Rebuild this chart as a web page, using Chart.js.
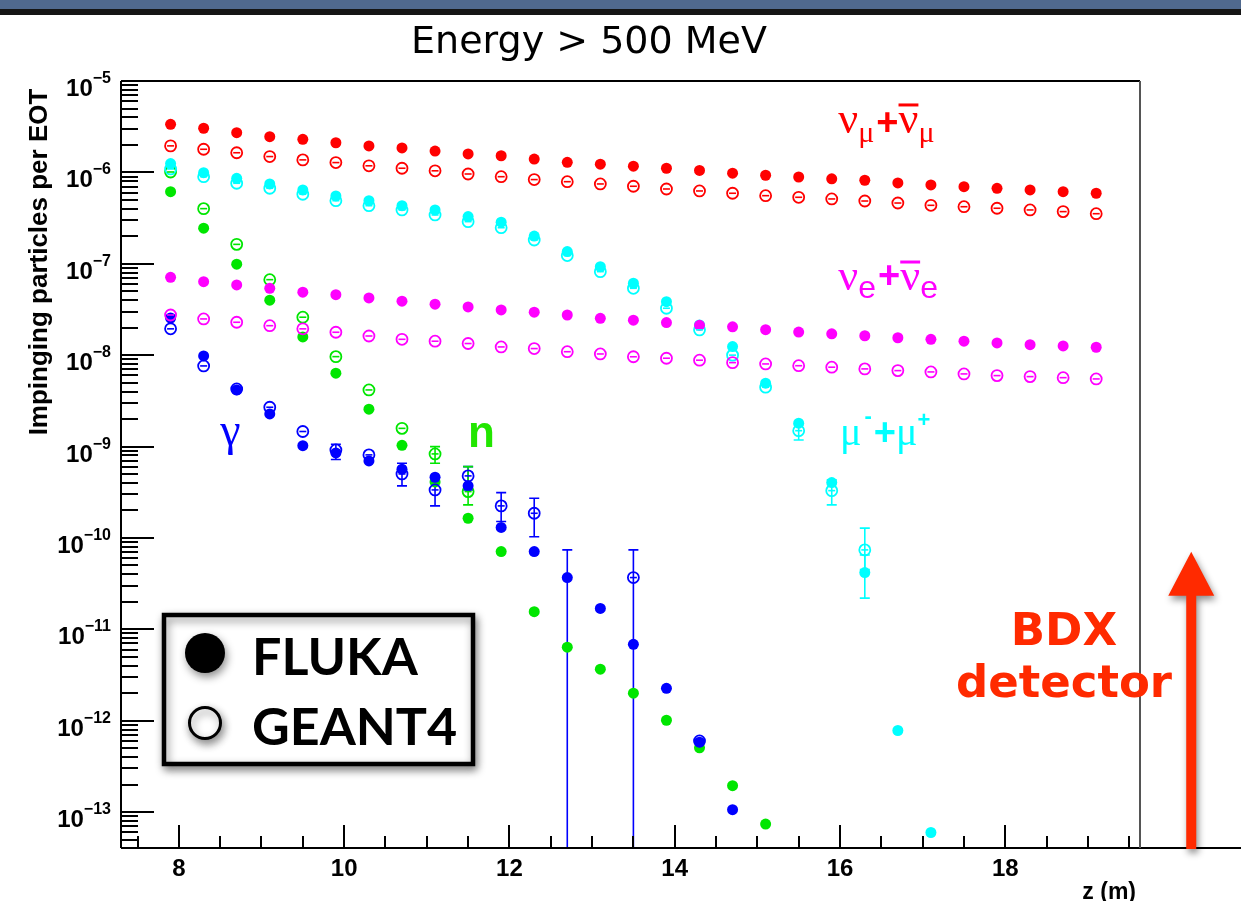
<!DOCTYPE html>
<html>
<head>
<meta charset="utf-8">
<script src="https://cdn.jsdelivr.net/npm/chart.js@4.4.1/dist/chart.umd.min.js"></script>
<style>
  html, body { margin: 0; padding: 0; background: #fff; }
  canvas { display: block; }
</style>
</head>
<body>
<canvas id="grafico" width="1241" height="901"></canvas>
<script>
// posicoes z (m) dos pontos
var zPos = [7.9, 8.3, 8.7, 9.1, 9.5, 9.9, 10.3, 10.7, 11.1, 11.5, 11.9, 12.3, 12.7, 13.1, 13.5,
            13.9, 14.3, 14.7, 15.1, 15.5, 15.9, 16.3, 16.7, 17.1, 17.5, 17.9, 18.3, 18.7, 19.1];

// nu_mu + anti nu_mu
var numuFluka = [3.36e-6, 3.04e-6, 2.72e-6, 2.46e-6, 2.30e-6, 2.11e-6, 1.95e-6, 1.85e-6, 1.71e-6, 1.59e-6,
                 1.52e-6, 1.40e-6, 1.29e-6, 1.23e-6, 1.17e-6, 1.11e-6, 1.05e-6, 9.8e-7, 9.3e-7, 8.9e-7,
                 8.5e-7, 8.2e-7, 7.66e-7, 7.28e-7, 6.98e-7, 6.70e-7, 6.42e-7, 6.15e-7, 5.91e-7];
var numuGeant = [1.95e-6, 1.79e-6, 1.64e-6, 1.49e-6, 1.37e-6, 1.28e-6, 1.18e-6, 1.11e-6, 1.04e-6, 9.6e-7,
                 8.97e-7, 8.34e-7, 7.91e-7, 7.47e-7, 7.05e-7, 6.58e-7, 6.26e-7, 5.91e-7, 5.56e-7, 5.34e-7,
                 5.12e-7, 4.86e-7, 4.62e-7, 4.36e-7, 4.21e-7, 4.05e-7, 3.88e-7, 3.72e-7, 3.53e-7];
// nu_e + anti nu_e
var nueFluka = [7.11e-8, 6.37e-8, 5.86e-8, 5.39e-8, 4.88e-8, 4.59e-8, 4.23e-8, 3.89e-8, 3.61e-8, 3.37e-8,
                3.12e-8, 2.95e-8, 2.75e-8, 2.53e-8, 2.41e-8, 2.27e-8, 2.12e-8, 2.04e-8, 1.90e-8, 1.79e-8,
                1.71e-8, 1.63e-8, 1.55e-8, 1.49e-8, 1.42e-8, 1.36e-8, 1.30e-8, 1.26e-8, 1.22e-8];
var nueGeant = [2.75e-8, 2.49e-8, 2.29e-8, 2.10e-8, 1.94e-8, 1.78e-8, 1.62e-8, 1.49e-8, 1.42e-8, 1.34e-8,
                1.23e-8, 1.18e-8, 1.09e-8, 1.03e-8, 9.6e-9, 9.25e-9, 8.8e-9, 8.28e-9, 8.01e-9, 7.66e-9,
                7.38e-9, 7.07e-9, 6.77e-9, 6.55e-9, 6.23e-9, 5.97e-9, 5.82e-9, 5.67e-9, 5.49e-9];
// mu- + mu+
var muFluka = [1.25e-6, 9.93e-7, 8.62e-7, 7.47e-7, 6.42e-7, 5.52e-7, 4.90e-7, 4.32e-7, 3.88e-7, 3.28e-7,
               2.85e-7, 2.01e-7, 1.36e-7, 9.3e-8, 6.12e-8, 3.85e-8, 2.14e-8, 1.24e-8, 4.93e-9, 1.80e-9,
               4.03e-10, 4.17e-11, 7.8e-13, 5.97e-14, null, null, null, null, null];
var muGeant = [1.09e-6, 8.97e-7, 7.60e-7, 6.70e-7, 5.76e-7, 4.90e-7, 4.32e-7, 3.88e-7, 3.42e-7, 2.89e-7,
               2.48e-7, 1.82e-7, 1.23e-7, 8.2e-8, 5.39e-8, 3.26e-8, 1.89e-8, 1.00e-8, 4.46e-9, 1.49e-9,
               3.29e-10, 7.39e-11, null, null, null, null, null, null, null];
// gamma
var gamFluka = [2.55e-8, 9.8e-9, 4.16e-9, 2.27e-9, 1.02e-9, 8.5e-10, 6.95e-10, 5.65e-10, 4.61e-10, 3.71e-10,
                1.30e-10, 7.08e-11, 3.68e-11, 1.69e-11, 6.84e-12, 2.26e-12, 5.82e-13, 1.06e-13, null, null,
                null, null, null, null, null, null, null, null, null];
var gamGeant = [1.94e-8, 7.62e-9, 4.27e-9, 2.69e-9, 1.46e-9, 9.18e-10, 8.1e-10, 5.01e-10, 3.35e-10, 4.77e-10,
                2.24e-10, 1.86e-10, null, null, 3.68e-11, null, 6.0e-13, null, null, null,
                null, null, null, null, null, null, null, null, null];
// neutroni
var nFluka = [6.15e-7, 2.45e-7, 9.9e-8, 3.99e-8, 1.58e-8, 6.34e-9, 2.56e-9, 1.03e-9, 4.10e-10, 1.64e-10,
              7.08e-11, 1.56e-11, 6.37e-12, 3.66e-12, 2.00e-12, 1.01e-12, 5.04e-13, 1.94e-13, 7.38e-14, null,
              null, null, null, null, null, null, null, null, null];
var nGeant = [1.01e-6, 4.01e-7, 1.63e-7, 6.70e-8, 2.60e-8, 9.63e-9, 4.16e-9, 1.58e-9, 8.3e-10, 3.21e-10,
              null, null, null, null, null, null, null, null, null, null,
              null, null, null, null, null, null, null, null, null];

// barras de erro [z, baixo, alto]
var gamFlukaErr = [[9.9, 7.2e-10, 1.06e-9], [12.7, 1e-16, 7.39e-11]];
var gamGeantErr = [[10.7, 3.71e-10, 6.57e-10], [11.1, 2.24e-10, 4.6e-10], [11.5, 3.35e-10, 6.03e-10],
                   [11.9, 1.51e-10, 3.13e-10], [12.3, 1.03e-10, 2.72e-10], [13.5, 1e-16, 7.39e-11]];
var nGeantErr = [[11.1, 6.57e-10, 9.98e-10], [11.5, 2.30e-10, 6.03e-10]];
var muGeantErr = [[15.5, 1.18e-9, 1.72e-9], [15.9, 2.30e-10, 4.31e-10], [16.3, 4.5e-11, 1.28e-10]];
var muFlukaErr = [[16.3, 2.19e-11, 6.5e-11]];

// eixos
var yDecades = [-5, -6, -7, -8, -9, -10, -11, -12, -13];
var xTickLabels = [8, 10, 12, 14, 16, 18];

var VERMELHO = '#ff0000', MAGENTA = '#ff00ff', CIANO = '#00ffff', AZUL = '#0000ff', VERDE = '#00e600';
var LARANJA = '#ff2a00';

function pontos(valores) {
    var out = [];
    zPos.forEach(function (z, i) {
        if (valores[i] !== null) out.push({ x: z, y: valores[i] });
    });
    return out;
}
function cheio(label, valores, cor) {
    return { label: label, data: pontos(valores), pointStyle: 'circle', pointRadius: 5.5,
             pointBackgroundColor: cor, pointBorderColor: cor, pointBorderWidth: 0, showLine: false };
}
function vazio(label, valores, cor) {
    return { label: label, data: pontos(valores), pointStyle: 'circle', pointRadius: 5.5,
             pointBackgroundColor: 'rgba(0,0,0,0)', pointBorderColor: cor, pointBorderWidth: 1.8,
             showLine: false, aberto: true };
}

// indice 0 fica por cima
var datasets = [
    vazio('numu GEANT4', numuGeant, VERMELHO),
    cheio('numu FLUKA', numuFluka, VERMELHO),
    vazio('nue GEANT4', nueGeant, MAGENTA),
    cheio('nue FLUKA', nueFluka, MAGENTA),
    vazio('mu GEANT4', muGeant, CIANO),
    cheio('mu FLUKA', muFluka, CIANO),
    vazio('gamma GEANT4', gamGeant, AZUL),
    cheio('gamma FLUKA', gamFluka, AZUL),
    vazio('n GEANT4', nGeant, VERDE),
    cheio('n FLUKA', nFluka, VERDE)
];

var barrasErro = [
    { err: gamFlukaErr, cor: AZUL }, { err: gamGeantErr, cor: AZUL },
    { err: nGeantErr, cor: VERDE }, { err: muGeantErr, cor: CIANO }, { err: muFlukaErr, cor: CIANO }
];

// texto com partes (subscrito, sobrescrito, barra)
function textoPartes(ctx, x, y, partes, cor) {
    ctx.fillStyle = cor;
    ctx.strokeStyle = cor;
    ctx.textAlign = 'left';
    ctx.textBaseline = 'alphabetic';
    partes.forEach(function (p) {
        ctx.font = p.font;
        var w = ctx.measureText(p.t).width;
        ctx.fillText(p.t, x + (p.dx || 0), y + (p.dy || 0));
        if (p.barra) {
            ctx.lineWidth = 3;
            ctx.beginPath();
            ctx.moveTo(x + (p.dx || 0), y - 28);
            ctx.lineTo(x + (p.dx || 0) + w, y - 28);
            ctx.stroke();
        }
        x += w + (p.dx || 0) + (p.gap || 0);
    });
}

var SERIF = '"Liberation Serif", serif';
var SANS = '"Liberation Sans", Arial, sans-serif';

var rotulos = [
    { z: 15.98, v: 2.70e-6, cor: VERMELHO, partes: [
        { t: '\u03bd', font: '44px ' + SERIF },
        { t: '\u03bc', font: '30px ' + SERIF, dy: 9 },
        { t: '+', font: 'bold 38px ' + SANS, dy: 2, dx: 2 },
        { t: '\u03bd', font: '44px ' + SERIF, barra: true },
        { t: '\u03bc', font: '30px ' + SERIF, dy: 9 }] },
    { z: 15.98, v: 5.16e-8, cor: MAGENTA, partes: [
        { t: '\u03bd', font: '44px ' + SERIF },
        { t: 'e', font: '32px ' + SANS, dy: 8 },
        { t: '+', font: 'bold 38px ' + SANS, dy: -2, dx: 2 },
        { t: '\u03bd', font: '44px ' + SERIF, barra: true },
        { t: 'e', font: '32px ' + SANS, dy: 8 }] },
    { z: 16.0, v: 1.04e-9, cor: CIANO, partes: [
        { t: '\u03bc', font: '40px ' + SERIF },
        { t: '-', font: 'bold 22px ' + SANS, dy: -22, dx: 3 },
        { t: '+', font: 'bold 38px ' + SANS, dx: 2 },
        { t: '\u03bc', font: '40px ' + SERIF },
        { t: '+', font: 'bold 22px ' + SANS, dy: -18 }] },
    { z: 8.5, v: 1.04e-9, cor: AZUL, partes: [{ t: '\u03b3', font: '46px ' + SERIF }] },
    { z: 11.5, v: 9.87e-10, cor: '#22e600', partes: [{ t: 'n', font: 'bold 44px ' + SANS }] }
];

var moldura = {
    id: 'moldura',
    beforeDraw: function (chart) {
        var ctx = chart.ctx;
        ctx.save();
        ctx.fillStyle = '#ffffff';
        ctx.fillRect(0, 0, chart.width, chart.height);
        // faixa do slide
        ctx.fillStyle = '#50698e';
        ctx.fillRect(0, 0, chart.width, 9);
        ctx.fillStyle = '#151515';
        ctx.fillRect(0, 9, chart.width, 6);
        ctx.restore();
    },
    beforeDatasetsDraw: function (chart) {
        var ctx = chart.ctx, area = chart.chartArea, xs = chart.scales.x, ys = chart.scales.y;
        ctx.save();
        ctx.beginPath();
        ctx.rect(area.left, area.top, area.right - area.left, area.bottom - area.top);
        ctx.clip();
        ctx.lineWidth = 1.6;
        barrasErro.forEach(function (b) {
            ctx.strokeStyle = b.cor;
            b.err.forEach(function (e) {
                var px = xs.getPixelForValue(e[0]);
                var y1 = ys.getPixelForValue(e[2]);
                var y2 = ys.getPixelForValue(e[1]);
                ctx.beginPath();
                ctx.moveTo(px, y1); ctx.lineTo(px, y2);
                ctx.moveTo(px - 5, y1); ctx.lineTo(px + 5, y1);
                if (y2 < area.bottom) { ctx.moveTo(px - 5, y2); ctx.lineTo(px + 5, y2); }
                ctx.stroke();
            });
        });
        ctx.restore();
    },
    afterDatasetsDraw: function (chart) {
        var ctx = chart.ctx;
        ctx.save();
        ctx.lineWidth = 1.6;
        chart.data.datasets.forEach(function (ds, i) {
            if (!ds.aberto) return;
            ctx.strokeStyle = ds.pointBorderColor;
            chart.getDatasetMeta(i).data.forEach(function (pt) {
                ctx.beginPath();
                ctx.moveTo(pt.x - 3.5, pt.y);
                ctx.lineTo(pt.x + 3.5, pt.y);
                ctx.stroke();
            });
        });
        ctx.restore();
    },
    afterDraw: function (chart) {
        var ctx = chart.ctx, area = chart.chartArea, xs = chart.scales.x, ys = chart.scales.y;
        ctx.save();

        // moldura
        ctx.strokeStyle = '#000';
        ctx.lineWidth = 2;
        ctx.beginPath();
        ctx.moveTo(area.left, area.top); ctx.lineTo(area.right, area.top);
        ctx.moveTo(area.left, area.top); ctx.lineTo(area.left, area.bottom);
        ctx.moveTo(area.left, area.bottom); ctx.lineTo(chart.width, area.bottom);
        ctx.stroke();
        ctx.strokeStyle = '#555';
        ctx.beginPath();
        ctx.moveTo(area.right, area.top); ctx.lineTo(area.right, area.bottom);
        ctx.stroke();

        // marcas do eixo y
        ctx.strokeStyle = '#000';
        ctx.lineWidth = 2;
        ctx.beginPath();
        for (var n = -14; n <= -6; n++) {
            for (var k = 1; k <= 9; k++) {
                var v = k * Math.pow(10, n);
                if (v < ys.min || v > ys.max) continue;
                var py = Math.round(ys.getPixelForValue(v));
                ctx.moveTo(area.left, py);
                ctx.lineTo(area.left + (k === 1 ? 33 : 17), py);
            }
        }
        // marcas do eixo x
        for (var z = 7.5; z <= 19.5; z += 0.5) {
            var px = Math.round(xs.getPixelForValue(z));
            ctx.moveTo(px, area.bottom);
            ctx.lineTo(px, area.bottom - (z % 2 === 0 ? 23 : 12));
        }
        ctx.stroke();

        // rotulos do eixo y
        ctx.fillStyle = '#000';
        ctx.textAlign = 'right';
        ctx.textBaseline = 'alphabetic';
        yDecades.forEach(function (d) {
            var py = ys.getPixelForValue(Math.pow(10, d));
            var ex = '\u2212' + Math.abs(d);
            ctx.font = 'bold 16px ' + SANS;
            ctx.fillText(ex, 111, py + 2);
            var w = ctx.measureText(ex).width;
            ctx.font = 'bold 24px ' + SANS;
            ctx.fillText('10', 111 - w, py + 15);
        });
        // rotulos do eixo x
        ctx.textAlign = 'center';
        ctx.font = 'bold 24px ' + SANS;
        xTickLabels.forEach(function (t) {
            ctx.fillText(String(t), xs.getPixelForValue(t), 876);
        });
        ctx.textAlign = 'right';
        ctx.font = 'bold 23px ' + SANS;
        ctx.fillText('z (m)', 1136, 899);

        // titulo do eixo y
        ctx.save();
        ctx.translate(47, 262);
        ctx.rotate(-Math.PI / 2);
        ctx.textAlign = 'center';
        ctx.font = 'bold 26px ' + SANS;
        ctx.fillText('Impinging particles per EOT', 0, 0);
        ctx.restore();

        // titulo
        ctx.textAlign = 'center';
        ctx.font = '38px "DejaVu Sans", sans-serif';
        ctx.fillText('Energy > 500 MeV', 589, 53);

        // rotulos das particulas
        rotulos.forEach(function (r) {
            textoPartes(ctx, xs.getPixelForValue(r.z), ys.getPixelForValue(r.v), r.partes, r.cor);
        });

        // legenda
        ctx.save();
        ctx.shadowColor = 'rgba(0,0,0,0.45)';
        ctx.shadowBlur = 8;
        ctx.shadowOffsetX = 2;
        ctx.shadowOffsetY = 4;
        ctx.fillStyle = '#fff';
        ctx.fillRect(164, 615, 309, 149);
        ctx.strokeStyle = '#000';
        ctx.lineWidth = 4.5;
        ctx.strokeRect(164, 615, 309, 149);
        ctx.fillStyle = '#000';
        ctx.beginPath();
        ctx.arc(205, 653, 20, 0, Math.PI * 2);
        ctx.fill();
        ctx.fillStyle = '#fff';
        ctx.lineWidth = 3;
        ctx.beginPath();
        ctx.arc(205, 723, 15.5, 0, Math.PI * 2);
        ctx.fill();
        ctx.stroke();
        ctx.restore();
        ctx.fillStyle = '#000';
        ctx.textAlign = 'left';
        ctx.font = 'bold 52px Lato, ' + SANS;
        ctx.fillText('FLUKA', 252, 675);
        ctx.fillText('GEANT4', 252, 745);

        // seta e detector
        var ax = xs.getPixelForValue(20.25);
        var topo = ys.getPixelForValue(7.06e-11);
        ctx.save();
        ctx.shadowColor = 'rgba(0,0,0,0.45)';
        ctx.shadowBlur = 7;
        ctx.shadowOffsetX = 2;
        ctx.shadowOffsetY = 4;
        ctx.fillStyle = LARANJA;
        ctx.beginPath();
        ctx.moveTo(ax, topo);
        ctx.lineTo(ax + 23, topo + 44);
        ctx.lineTo(ax + 5, topo + 44);
        ctx.lineTo(ax + 5, area.bottom + 1);
        ctx.lineTo(ax - 5, area.bottom + 1);
        ctx.lineTo(ax - 5, topo + 44);
        ctx.lineTo(ax - 23, topo + 44);
        ctx.closePath();
        ctx.fill();
        ctx.restore();

        ctx.fillStyle = LARANJA;
        ctx.textAlign = 'center';
        ctx.font = 'bold 45px "DejaVu Sans", sans-serif';
        var bx = xs.getPixelForValue(18.71);
        ctx.fillText('BDX', bx, ys.getPixelForValue(6.73e-12));
        ctx.fillText('detector', bx, ys.getPixelForValue(1.82e-12));

        ctx.restore();
    }
};

var ctx = document.getElementById('grafico');
var grafico = new Chart(ctx, {
    type: 'scatter',
    data: { datasets: datasets },
    options: {
        responsive: false,
        animation: false,
        devicePixelRatio: 1,
        layout: { padding: { left: 121, top: 81, right: 101, bottom: 53 } },
        plugins: {
            legend: { display: false },
            tooltip: { enabled: false },
            title: { display: false }
        },
        scales: {
            x: { type: 'linear', min: 7.3, max: 19.63, display: false },
            y: { type: 'logarithmic', min: 4.04e-14, max: 1e-5, display: false }
        }
    },
    plugins: [moldura]
});
</script>
</body>
</html>
